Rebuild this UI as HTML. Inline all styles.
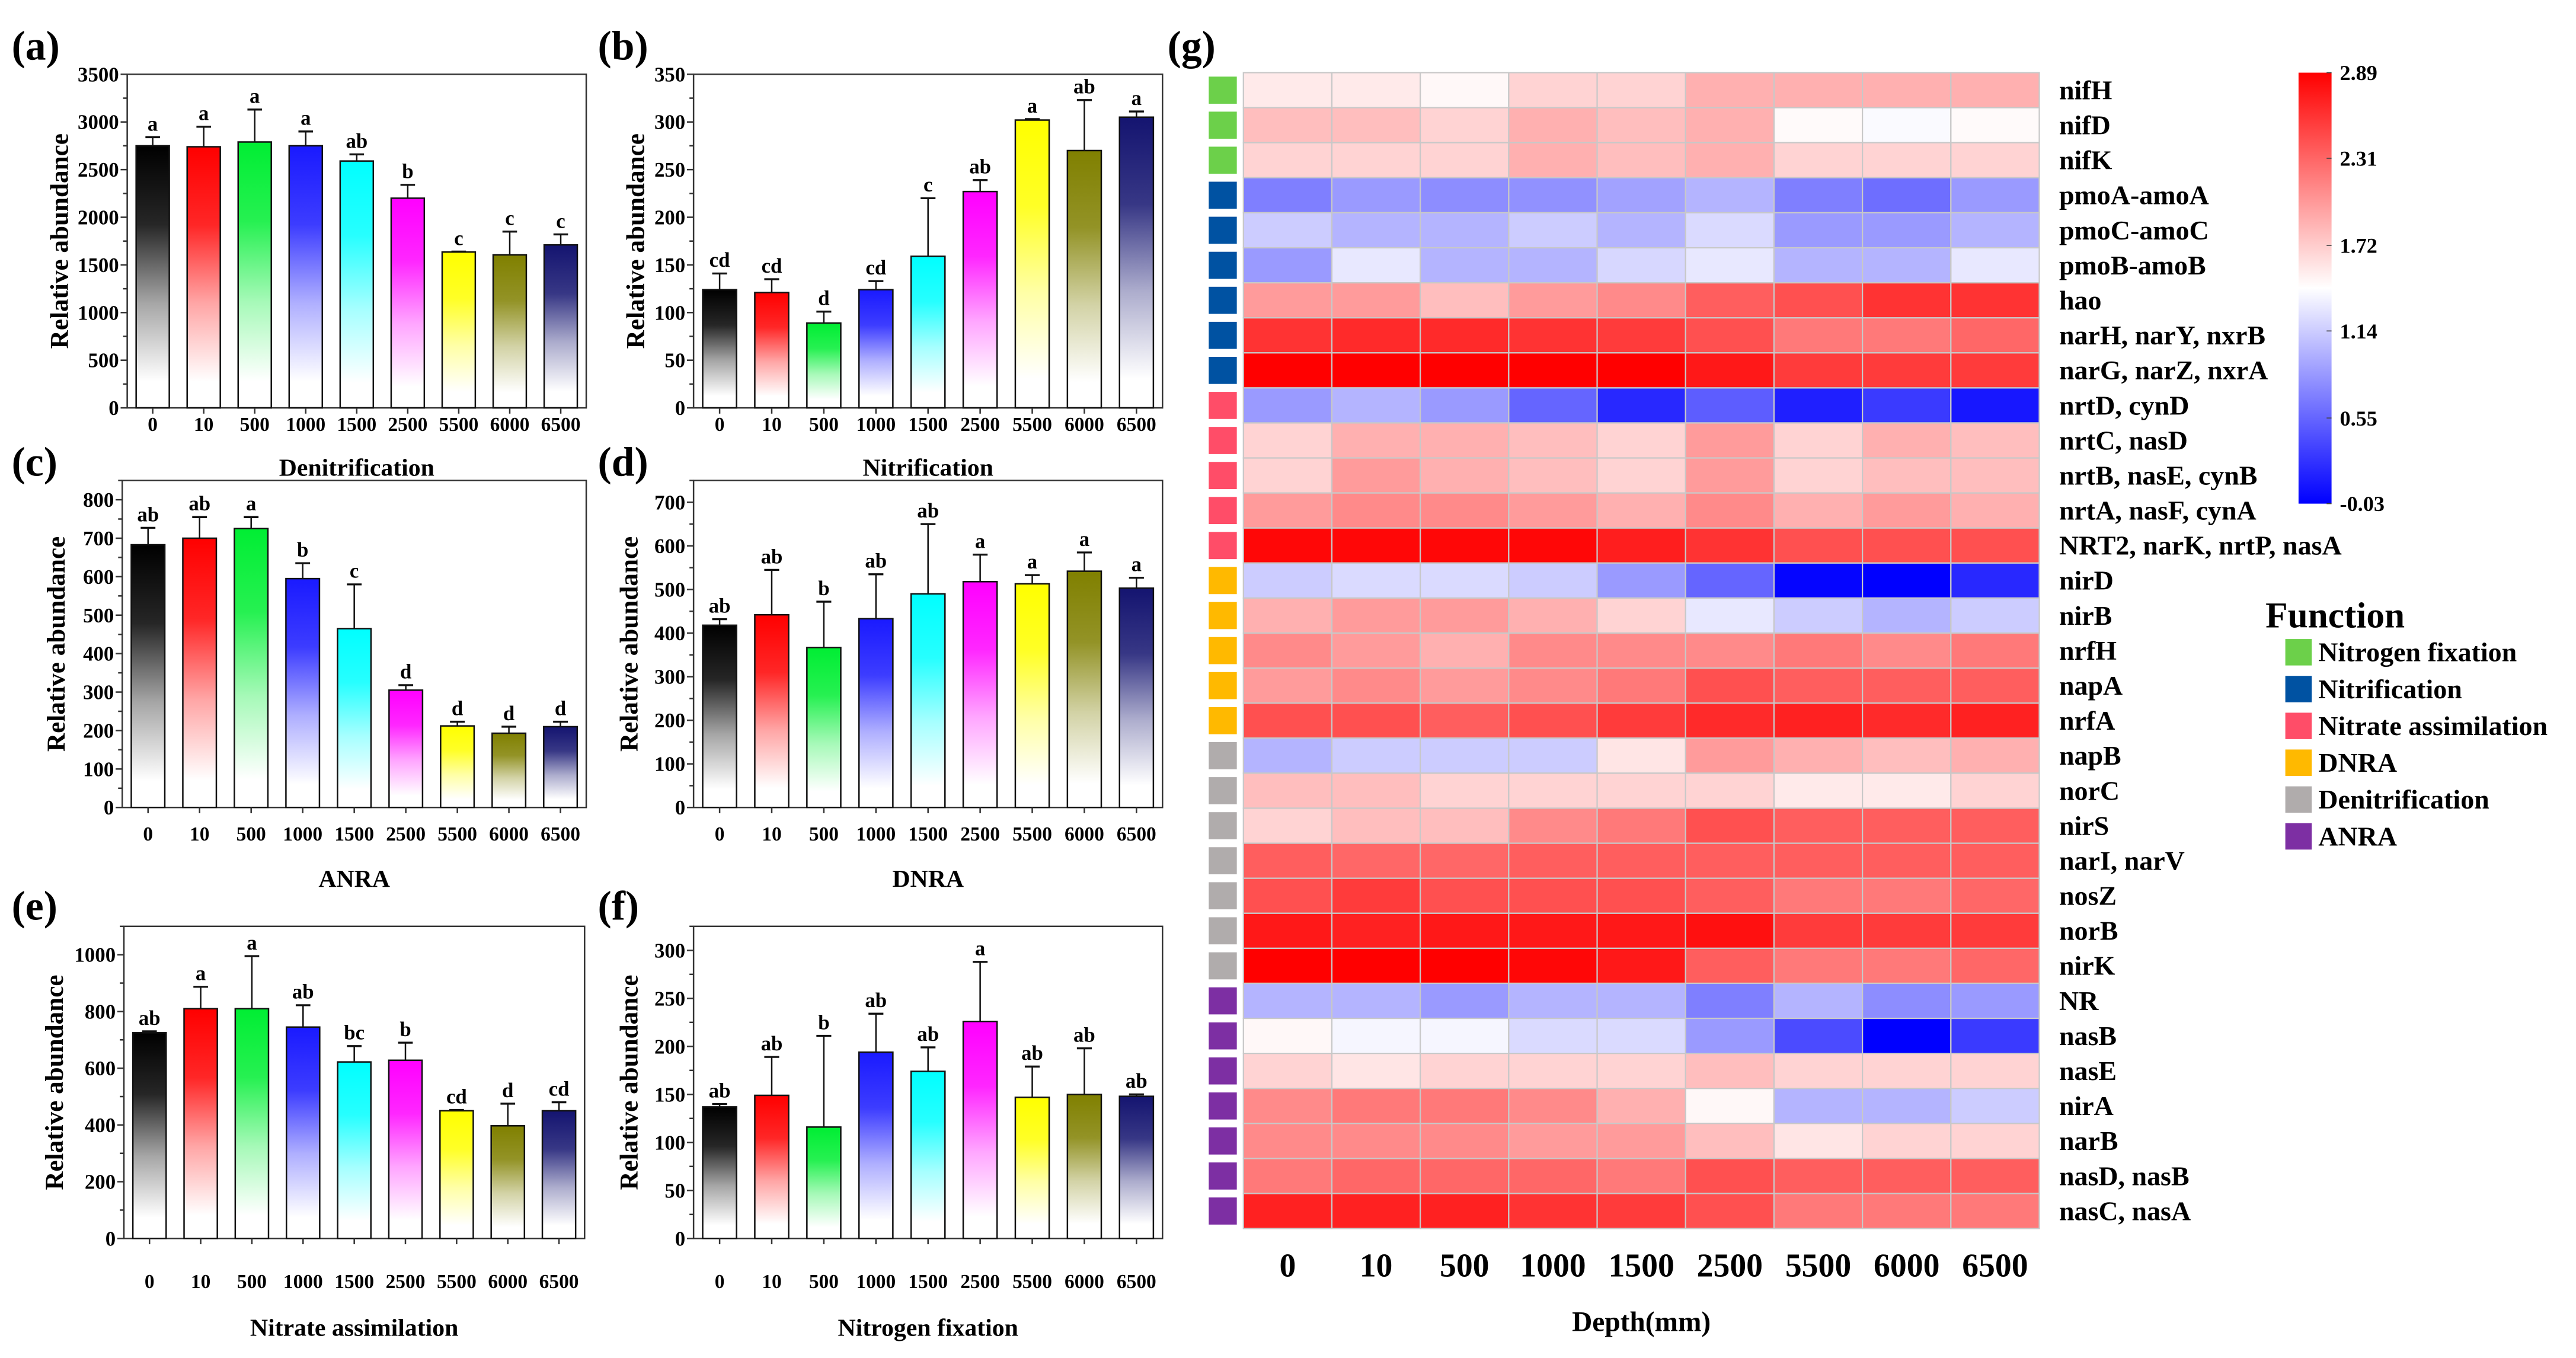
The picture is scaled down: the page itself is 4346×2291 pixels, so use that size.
<!DOCTYPE html>
<html><head><meta charset="utf-8"><title>Nitrogen cycle genes</title>
<style>
html,body{margin:0;padding:0;background:#fff;}
svg{display:block;}
text{font-family:"Liberation Serif",serif;font-weight:bold;fill:#000;}
</style></head>
<body>
<svg id="fig" xmlns="http://www.w3.org/2000/svg" width="4346" height="2291" viewBox="0 0 1560 822.4">
<defs id="defs"></defs>
</svg>
<script>
const depths = ["0","10","500","1000","1500","2500","5500","6000","6500"];
const barColors = ["#000000","#ff0000","#00ee33","#1a1aff","#00ffff","#ff00ff","#ffff00","#808000","#141470"];

const denitMeans = [2750,2740,2790,2750,2590,2200,1635,1605,1710];
const denitTops  = [2840,2950,3130,2900,2660,2340,1640,1850,1820];
const denitLetters = ["a","a","a","a","ab","b","c","c","c"];

const nitrMeans = [124,121,89,124,159,227,302,270,305];
const nitrTops  = [141,135,101,133,220,239,303,323,311];
const nitrLetters = ["cd","cd","d","cd","c","ab","a","ab","a"];

const anraMeans = [683,700,725,595,465,305,212,193,210];
const anraTops  = [727,755,755,635,580,318,223,210,223];
const anraLetters = ["ab","ab","a","b","c","d","d","d","d"];

const dnraMeans = [418,442,367,433,490,518,513,542,503];
const dnraTops  = [432,545,472,535,650,580,533,585,527];
const dnraLetters = ["ab","ab","b","ab","ab","a","a","a","a"];

const nassMeans = [725,810,810,745,622,628,450,397,450];
const nassTops  = [730,887,995,822,678,690,453,475,480];
const nassLetters = ["ab","a","a","ab","bc","b","cd","d","cd"];

const nfixMeans = [137,149,116,194,174,226,147,150,148];
const nfixTops  = [140,189,211,234,199,288,179,198,150];
const nfixLetters = ["ab","ab","b","ab","ab","a","ab","ab","ab"];

const denitTicks = [0,500,1000,1500,2000,2500,3000,3500];
const nitrTicks = [0,50,100,150,200,250,300,350];
const anraTicks = [0,100,200,300,400,500,600,700,800];
const dnraTicks = [0,100,200,300,400,500,600,700];
const nassTicks = [0,200,400,600,800,1000];
const nfixTicks = [0,50,100,150,200,250,300];

const genes = ["nifH","nifD","nifK","pmoA-amoA","pmoC-amoC","pmoB-amoB","hao","narH, narY, nxrB","narG, narZ, nxrA","nrtD, cynD","nrtC, nasD","nrtB, nasE, cynB","nrtA, nasF, cynA","NRT2, narK, nrtP, nasA","nirD","nirB","nrfH","napA","nrfA","napB","norC","nirS","narI, narV","nosZ","norB","nirK","NR","nasB","nasE","nirA","narB","nasD, nasB","nasC, nasA"];
const geneFunction = [0,0,0,1,1,1,1,1,1,2,2,2,2,2,3,3,3,3,3,4,4,4,4,4,4,4,5,5,5,5,5,5,5];
const functionNames = ["Nitrogen fixation","Nitrification","Nitrate assimilation","DNRA","Denitrification","ANRA"];
const functionColors = ["#6cd04a","#0052a2","#ff4d68","#ffb900","#b0acac","#7d2fa3"];
const heatValues = [
[1.55,1.55,1.47,1.68,1.68,1.88,1.88,1.88,1.88],
[1.80,1.80,1.68,1.88,1.80,1.88,1.46,1.40,1.46],
[1.68,1.68,1.68,1.88,1.80,1.88,1.68,1.68,1.68],
[0.70,0.85,0.78,0.80,0.90,1.00,0.70,0.60,0.85],
[1.14,1.00,1.00,1.14,1.00,1.22,0.85,0.85,1.00],
[0.85,1.30,1.00,1.00,1.20,1.30,1.00,1.00,1.30],
[2.00,2.00,1.80,2.00,2.10,2.35,2.43,2.60,2.60],
[2.60,2.65,2.65,2.60,2.55,2.43,2.20,2.20,2.30],
[2.89,2.89,2.89,2.89,2.89,2.75,2.55,2.55,2.55],
[0.85,1.00,0.85,0.55,0.20,0.50,0.15,0.30,0.10],
[1.68,1.88,1.88,1.80,1.68,2.00,1.68,1.88,1.80],
[1.68,2.00,1.88,1.80,1.68,2.00,1.68,1.80,1.80],
[2.00,2.10,2.10,2.00,1.88,2.10,1.88,2.00,1.88],
[2.85,2.85,2.85,2.85,2.72,2.60,2.43,2.43,2.43],
[1.14,1.22,1.22,1.14,0.85,0.55,0.00,-0.03,0.20],
[1.88,2.00,2.00,1.88,1.68,1.30,1.14,1.00,1.14],
[2.10,2.00,1.88,2.10,2.10,2.10,2.20,2.10,2.20],
[2.00,2.10,2.00,2.10,2.20,2.43,2.35,2.35,2.35],
[2.43,2.43,2.35,2.43,2.55,2.65,2.70,2.65,2.70],
[1.00,1.14,1.14,1.14,1.58,2.00,1.88,1.80,1.88],
[1.80,1.80,1.68,1.68,1.68,1.68,1.55,1.55,1.68],
[1.68,1.80,1.80,2.10,2.20,2.43,2.35,2.35,2.35],
[2.35,2.30,2.30,2.35,2.35,2.35,2.35,2.35,2.35],
[2.43,2.55,2.43,2.43,2.43,2.35,2.20,2.20,2.30],
[2.75,2.70,2.75,2.75,2.75,2.80,2.55,2.55,2.55],
[2.89,2.89,2.89,2.85,2.75,2.35,2.20,2.20,2.30],
[1.00,1.00,0.85,1.00,1.00,0.70,1.00,0.78,0.85],
[1.47,1.38,1.38,1.22,1.22,0.85,0.40,-0.03,0.30],
[1.68,1.58,1.68,1.68,1.68,1.80,1.68,1.68,1.68],
[2.10,2.20,2.20,2.10,1.88,1.47,1.00,1.00,1.14],
[2.10,2.10,2.10,2.00,2.00,1.80,1.58,1.68,1.68],
[2.20,2.30,2.30,2.30,2.20,2.43,2.35,2.35,2.35],
[2.70,2.70,2.70,2.60,2.55,2.43,2.20,2.20,2.20]
];
const colorbarTicks = [2.89,2.31,1.72,1.14,0.55,-0.03];
const heatMin = -0.03, heatMax = 2.89;

const NS = "http://www.w3.org/2000/svg";
const svg = document.getElementById("fig");
const defs = document.getElementById("defs");
function mk(tag, attrs, parent){
  const e = document.createElementNS(NS, tag);
  for (const k in attrs) e.setAttribute(k, attrs[k]);
  (parent || svg).appendChild(e);
  return e;
}
function txt(str, x, y, size, anchor, parent){
  const t = mk("text", {x:x, y:y, "font-size":size, "text-anchor":anchor||"middle"}, parent);
  t.textContent = str;
  return t;
}

barColors.forEach((c,i)=>{
  const g = mk("linearGradient", {id:"bg"+i, x1:"0", y1:"0", x2:"0", y2:"1"}, defs);
  mk("stop", {offset:"0", "stop-color":c, "stop-opacity":"1"}, g);
  mk("stop", {offset:"0.3", "stop-color":c, "stop-opacity":"0.85"}, g);
  mk("stop", {offset:"0.6", "stop-color":c, "stop-opacity":"0.35"}, g);
  mk("stop", {offset:"0.9", "stop-color":c, "stop-opacity":"0"}, g);
});

function barPanel(cfg){
  const g = mk("g", {});
  
  
  const {x0,x1,y0,y1,ymax} = cfg;
  const ys = v => y1 - (v/ymax)*(y1-y0);
  const n = depths.length, cw = (x1-x0)/n, bw = cw*0.65;
  const xc = i => x0 + cw*(i+0.5);
  const fr = mk("rect", {x:x0, y:y0, width:x1-x0, height:y1-y0, fill:"none", stroke:"#333", "stroke-width":0.9}, g);
  
  
  const step = cfg.ticks[1]-cfg.ticks[0];
  for (let v=0; v<=ymax+1e-9; v+=step/2){
    const major = Math.abs((v/step)-Math.round(v/step))<1e-6;
    mk("line", {x1:x0, x2:x0-(major?4:2.5), y1:ys(v), y2:ys(v), stroke:"#333", "stroke-width":0.9}, g);
  }
  cfg.ticks.forEach(v=>{
    const t = txt(String(v), x0-5, ys(v)+4.3, 12.5, "end", g);
    
    
  });
  cfg.means.forEach((m,i)=>{
    const top = cfg.tops[i];
    const el = mk("line", {x1:xc(i), x2:xc(i), y1:ys(m), y2:ys(top), stroke:"#111", "stroke-width":0.9}, g);
    
    
    mk("line", {x1:xc(i)-bw*0.22, x2:xc(i)+bw*0.22, y1:ys(top), y2:ys(top), stroke:"#111", "stroke-width":1.2}, g);
    const r = mk("rect", {x:xc(i)-bw/2, y:ys(m), width:bw, height:y1-ys(m), fill:"url(#bg"+i+")", stroke:"#111", "stroke-width":0.9}, g);
    
    
    const lt = txt(cfg.letters[i], xc(i), ys(top)-4, 12.5, "middle", g);
    
    
    mk("line", {x1:xc(i), x2:xc(i), y1:y1, y2:y1+3.5, stroke:"#333", "stroke-width":0.9}, g);
    const xl = txt(depths[i], xc(i), cfg.xlabY, 12, "middle", g);
    
    
  });
  const xt = txt(cfg.title, (x0+x1)/2, cfg.titleY, 15, "middle", g);
  
  
  const yt = txt("Relative abundance", 0, 0, 15.5, "middle", g);
  yt.setAttribute("transform", "translate("+cfg.ytX+","+((y0+y1)/2)+") rotate(-90)");
  
  
  const pl = txt(cfg.label, cfg.labX, cfg.labY, 25, "start", g);
  
  
}

const L0=77, L1=355, R0=420, R1=704;
barPanel({name:"panel-a-denitrification", x0:L0,x1:L1,y0:45,y1:247,ymax:3500, ticks:denitTicks, means:denitMeans, tops:denitTops, letters:denitLetters, title:"Denitrification", xlabY:261, titleY:288, ytX:41, label:"(a)", labX:7, labY:36});
barPanel({name:"panel-b-nitrification", x0:R0,x1:R1,y0:45,y1:247,ymax:350, ticks:nitrTicks, means:nitrMeans, tops:nitrTops, letters:nitrLetters, title:"Nitrification", xlabY:261, titleY:288, ytX:390, label:"(b)", labX:362, labY:36});
barPanel({name:"panel-c-anra", x0:L0-3,x1:L1,y0:291,y1:489,ymax:850, ticks:anraTicks, means:anraMeans, tops:anraTops, letters:anraLetters, title:"ANRA", xlabY:509, titleY:537, ytX:39, label:"(c)", labX:7, labY:288});
barPanel({name:"panel-d-dnra", x0:R0,x1:R1,y0:291,y1:489,ymax:750, ticks:dnraTicks, means:dnraMeans, tops:dnraTops, letters:dnraLetters, title:"DNRA", xlabY:509, titleY:537, ytX:386, label:"(d)", labX:362, labY:288});
barPanel({name:"panel-e-nitrate-assimilation", x0:L0-2,x1:L1-1,y0:561,y1:750,ymax:1100, ticks:nassTicks, means:nassMeans, tops:nassTops, letters:nassLetters, title:"Nitrate assimilation", xlabY:780, titleY:809, ytX:38, label:"(e)", labX:7, labY:557});
barPanel({name:"panel-f-nitrogen-fixation", x0:R0,x1:R1,y0:561,y1:750,ymax:325, ticks:nfixTicks, means:nfixMeans, tops:nfixTops, letters:nfixLetters, title:"Nitrogen fixation", xlabY:780, titleY:809, ytX:386, label:"(f)", labX:362, labY:557});

function heatColor(v){
  const mid = (heatMin+heatMax)/2;
  let r,g,b;
  if (v>=mid){ const t=Math.min(1,(v-mid)/(heatMax-mid)); r=255; g=Math.round(255*(1-t)); b=g; }
  else { const t=Math.min(1,(mid-v)/(mid-heatMin)); b=255; r=Math.round(255*(1-t)); g=r; }
  return "rgb("+r+","+g+","+b+")";
}
const hm = mk("g", {});


const HX0=753, HX1=1235, HY0=44, HY1=744;
const cw = (HX1-HX0)/depths.length, rh = (HY1-HY0)/genes.length;
heatValues.forEach((row,ri)=>{
  row.forEach((v,ci)=>{
    const c = mk("rect", {x:HX0+ci*cw, y:HY0+ri*rh, width:cw, height:rh, fill:heatColor(v), stroke:"#c8c8c8", "stroke-width":0.8}, hm);
    
    
  });
  const s = mk("rect", {x:732, y:HY0+ri*rh+2.4, width:17, height:rh-4.8, fill:functionColors[geneFunction[ri]]}, hm);
  
  
  const gl = txt(genes[ri], 1247, HY0+ri*rh+rh/2+5.5, 16.5, "start", hm);
  
  
});
depths.forEach((d,ci)=>{
  const t = txt(d, HX0+cw*(ci+0.5), 773, 20, "middle", hm);
  
  
});
const dt = txt("Depth(mm)", 994, 806, 17, "middle", hm);


const gLab = txt("(g)", 707, 36, 25, "start", hm);



const cg = mk("linearGradient", {id:"cbar", x1:"0", y1:"0", x2:"0", y2:"1"}, defs);
mk("stop", {offset:"0", "stop-color":"#ff0000"}, cg);
mk("stop", {offset:"0.5", "stop-color":"#ffffff"}, cg);
mk("stop", {offset:"1", "stop-color":"#0000ff"}, cg);
const CY0=44, CY1=305;
const cb = mk("rect", {x:1392, y:CY0, width:20, height:CY1-CY0, fill:"url(#cbar)"});


colorbarTicks.forEach(v=>{
  const y = CY1 - (v-heatMin)/(heatMax-heatMin)*(CY1-CY0);
  mk("line", {x1:1409, x2:1412, y1:y, y2:y, stroke:"#444", "stroke-width":0.6});
  const t = txt(v.toFixed(2), 1417, y+4.5, 13, "start");
  
  
});

const lg = mk("g", {});


const lt = txt("Function", 1372, 380, 22, "start", lg);


functionNames.forEach((n,i)=>{
  const y = 395 + i*22.3;
  const r = mk("rect", {x:1384, y:y-8, width:16, height:16, fill:functionColors[i]}, lg);
  
  
  const t = txt(n, 1404, y+5.5, 16.5, "start", lg);
  
  
});
</script>
</body></html>
